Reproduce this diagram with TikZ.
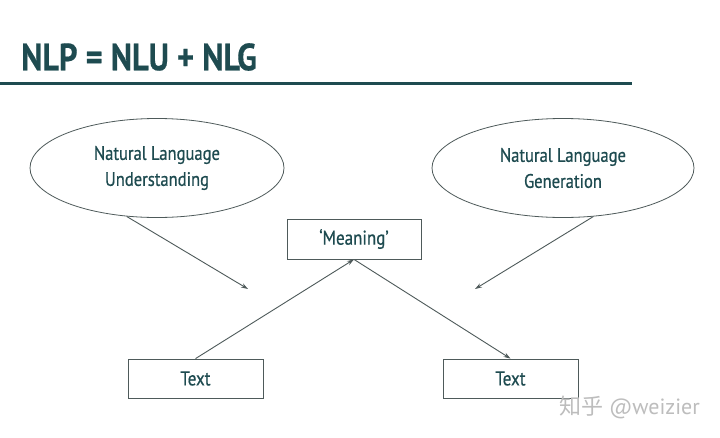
\documentclass[tikz,border=0pt]{standalone}
\usepackage{fontspec}
\setmainfont{PT Sans}[FakeStretch=0.85,FakeBold=0.6]
\newfontfamily\titlefnt{PT Sans Bold}[FakeStretch=0.85,FakeBold=0.4]
\newfontfamily\cjk{Noto Sans CJK SC}
\newfontfamily\wmfont{PT Sans}
\usetikzlibrary{arrows.meta,shapes.geometric}
\definecolor{nlpteal}{HTML}{1E4B50}
\definecolor{linegray}{HTML}{4E5A5A}
\definecolor{markgray}{HTML}{BDBDBD}
\begin{document}
\begin{tikzpicture}[x=1pt,y=-1pt,
  titletext/.style={font=\titlefnt\fontsize{38}{40}\selectfont, text=nlpteal, inner sep=0},
  rule/.style={draw=nlpteal, line width=3pt},
  ell/.style={ellipse, draw=linegray, line width=0.8pt, align=center, inner sep=0,
    font=\fontsize{19.5}{26}\selectfont, text=nlpteal},
  box/.style={rectangle, draw=linegray, line width=0.8pt, inner sep=0,
    font=\fontsize{20}{22}\selectfont, text=nlpteal},
  arr/.style={draw=linegray, line width=0.9pt, -{Stealth[length=7pt,width=4.5pt]}},
  wmark/.style={font=\wmfont\fontsize{22}{24}\selectfont, text=markgray, inner sep=0}]
\useasboundingbox (0,0) rectangle (720,437);
\fill[white] (0,0) rectangle (720,437);
\node[titletext, anchor=west] (title) at (21,57) {NLP = NLU + NLG};
\coordinate (r1) at (0,83);
\coordinate (r2) at (632,83);
\draw[rule] (r1) -- (r2);
\node[ell, minimum width=254pt, minimum height=99pt] (nlu) at (157,168) {Natural Language\\Understanding};
\node[ell, minimum width=262pt, minimum height=99pt] (nlg) at (563,168) {Natural Language\\Generation};
\node[box, minimum width=134pt, minimum height=40pt] (mean) at (354,239) {‘Meaning’};
\node[box, minimum width=135pt, minimum height=39pt] (t1) at (195.5,378.5) {Text};
\node[box, minimum width=135pt, minimum height=39pt] (t2) at (510.5,378.5) {Text};
\coordinate (a1) at (248,289);
\coordinate (a2) at (475,289);
\draw[arr] (nlu.238) -- (a1);
\draw[arr] (nlg.302) -- (a2);
\draw[arr] (t1.north) -- (mean.south);
\draw[arr] (mean.south) -- (t2.north);
\node[wmark, anchor=west] (wm) at (559,407) {{\cjk 知乎} @weizier};
\end{tikzpicture}
\end{document}
